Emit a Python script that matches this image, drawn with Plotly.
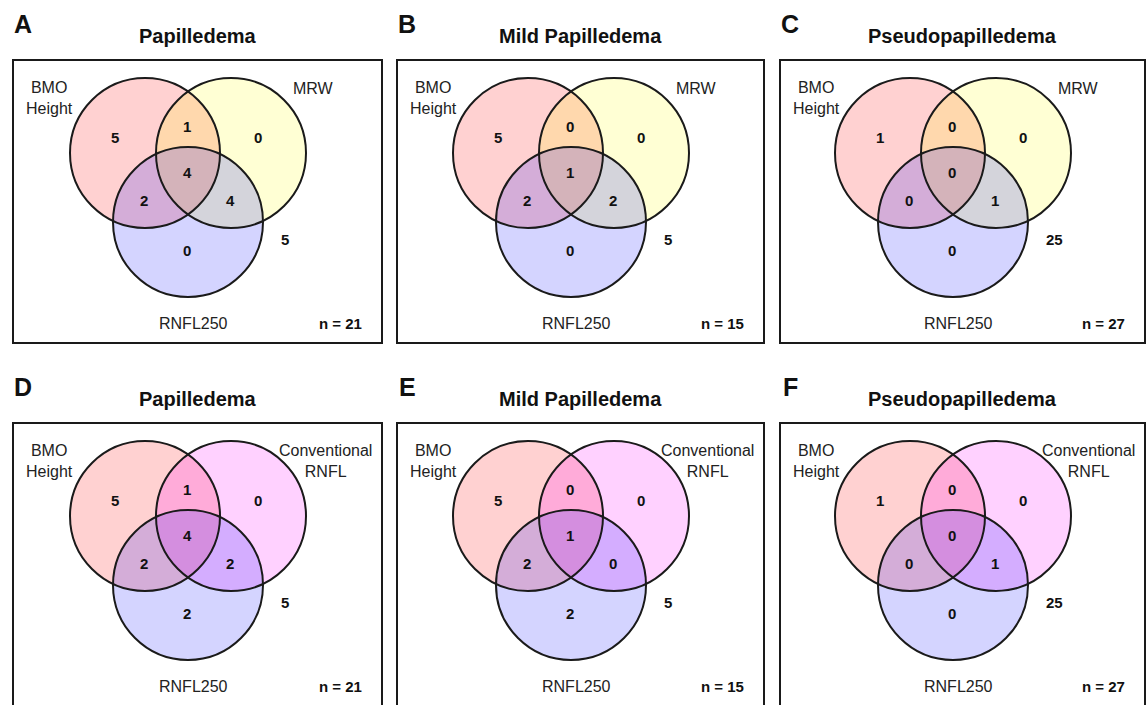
import plotly.graph_objects as go

# ---------------- data ----------------
panel_letters = ["A", "B", "C", "D", "E", "F"]
panel_titles = ["Papilledema", "Mild Papilledema", "Pseudopapilledema",
                "Papilledema", "Mild Papilledema", "Pseudopapilledema"]
set_labels_top = ["BMO<br>Height", "MRW", "RNFL250"]
set_labels_bottom = ["BMO<br>Height", "Conventional<br>RNFL", "RNFL250"]
# region order: only set1, only set2, set1&2, set1&3, set2&3, all three, only set3, outside
region_counts = [
    [5, 0, 1, 2, 4, 4, 0, 5],
    [5, 0, 0, 2, 2, 1, 0, 5],
    [1, 0, 0, 0, 1, 0, 0, 25],
    [5, 0, 1, 2, 2, 4, 2, 5],
    [5, 0, 0, 2, 0, 1, 2, 5],
    [1, 0, 0, 0, 1, 0, 0, 25],
]
n_totals = [21, 15, 27, 21, 15, 27]

# ---------------- layout / style ----------------
W, H = 1146, 705
box_left = [13, 397, 780]
box_width = [369, 367, 365]
box_top = [60, 423]
box_height = 283

FONT = "Liberation Sans, Arial, sans-serif"
colors_top = ["rgba(255,0,0,0.18)", "rgba(255,255,0,0.17)", "rgba(0,0,255,0.17)"]
colors_bottom = ["rgba(255,0,0,0.18)", "rgba(255,0,255,0.18)", "rgba(0,0,255,0.17)"]

# circle centres (relative to box top-left) and radius
circ_centres = [(132, 93), (218, 93), (175, 162)]
R = 75
# number positions relative to box, same order as region_counts
num_pos = [(102, 77), (245, 77), (174, 66), (131, 140), (217, 140), (174, 112), (174, 190)]
outside_pos = (266, 179)

fig = go.Figure()
shapes = []
annotations = []

for i in range(6):
    row, col = divmod(i, 3)
    bx, by = box_left[col], box_top[row]
    bw = box_width[col]
    sx = (bw - 369) / 2.0
    labels = set_labels_top if row == 0 else set_labels_bottom
    cols = colors_top if row == 0 else colors_bottom

    # box
    shapes.append(dict(type="rect", xref="x", yref="y", x0=bx, x1=bx + bw,
                       y0=by, y1=by + box_height,
                       line=dict(color="#1a1a1a", width=2), fillcolor="rgba(0,0,0,0)",
                       layer="above"))
    # fills
    for (cx, cy), c in zip(circ_centres, cols):
        shapes.append(dict(type="circle", xref="x", yref="y",
                           x0=bx + sx + cx - R, x1=bx + sx + cx + R,
                           y0=by + cy - R, y1=by + cy + R,
                           fillcolor=c, line=dict(width=0), layer="below"))
    # outlines
    for (cx, cy) in circ_centres:
        shapes.append(dict(type="circle", xref="x", yref="y",
                           x0=bx + sx + cx - R, x1=bx + sx + cx + R,
                           y0=by + cy - R, y1=by + cy + R,
                           fillcolor="rgba(0,0,0,0)",
                           line=dict(color="#1a1a1a", width=2), layer="above"))

    # letter and title
    annotations.append(dict(x=bx + 10, y=by - 36, text="<b>%s</b>" % panel_letters[i],
                            showarrow=False, font=dict(family=FONT, size=25, color="#111"),
                            xanchor="center", yanchor="middle"))
    annotations.append(dict(x=bx + bw / 2.0, y=by - 24, text="<b>%s</b>" % panel_titles[i],
                            showarrow=False, font=dict(family=FONT, size=20, color="#111"),
                            xanchor="center", yanchor="middle"))

    # set labels
    annotations.append(dict(x=bx + 36, y=by + 38, text=labels[0], showarrow=False,
                            font=dict(family=FONT, size=16, color="#222"),
                            xanchor="center", yanchor="middle", align="center"))
    if row == 0:
        annotations.append(dict(x=bx + sx + 300, y=by + 28, text=labels[1], showarrow=False,
                                font=dict(family=FONT, size=16, color="#222"),
                                xanchor="center", yanchor="middle"))
    else:
        annotations.append(dict(x=bx + bw - 57, y=by + 38, text=labels[1], showarrow=False,
                                font=dict(family=FONT, size=16, color="#222"),
                                xanchor="center", yanchor="middle", align="center"))
    annotations.append(dict(x=bx + sx + 180, y=by + 263, text=labels[2], showarrow=False,
                            font=dict(family=FONT, size=16, color="#222"),
                            xanchor="center", yanchor="middle"))

    # region numbers
    for (px, py), v in zip(num_pos, region_counts[i][:7]):
        annotations.append(dict(x=bx + sx + px, y=by + py, text="<b>%d</b>" % v,
                                showarrow=False, font=dict(family=FONT, size=15, color="#111"),
                                xanchor="center", yanchor="middle"))
    annotations.append(dict(x=bx + sx + outside_pos[0], y=by + outside_pos[1],
                            text="<b>%d</b>" % region_counts[i][7], showarrow=False,
                            font=dict(family=FONT, size=15, color="#111"),
                            xanchor="left", yanchor="middle"))
    # n =
    annotations.append(dict(x=bx + bw - 42, y=by + 263, text="<b>n = %d</b>" % n_totals[i],
                            showarrow=False, font=dict(family=FONT, size=15, color="#111"),
                            xanchor="center", yanchor="middle"))

# invisible trace to anchor axes
fig.add_trace(go.Scatter(x=[0, W], y=[0, H], mode="markers",
                         marker=dict(opacity=0), hoverinfo="skip", showlegend=False))

fig.update_layout(
    width=W, height=H,
    margin=dict(l=0, r=0, t=0, b=0),
    paper_bgcolor="white", plot_bgcolor="white",
    shapes=shapes, annotations=annotations,
    xaxis=dict(range=[0, W], visible=False, fixedrange=True),
    yaxis=dict(range=[H, 0], visible=False, fixedrange=True),
    showlegend=False,
)

fig.write_html("out.html")
